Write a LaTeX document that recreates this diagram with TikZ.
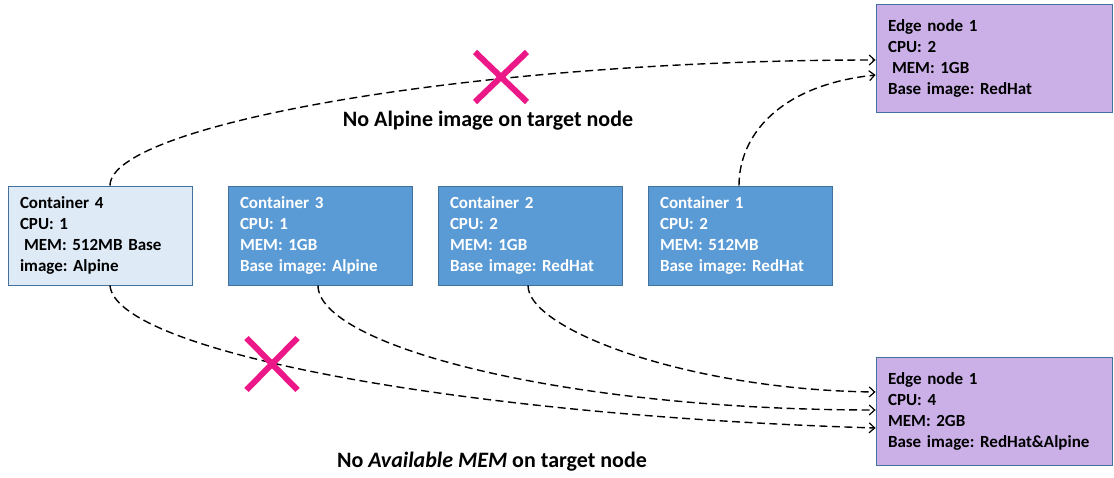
\documentclass[tikz,border=0pt]{standalone}
\usepackage{fontspec}
\setmainfont{Carlito}
\usetikzlibrary{arrows.meta,shapes.misc}
\definecolor{boxblue}{HTML}{5B9BD5}
\definecolor{boxlight}{HTML}{DEEBF7}
\definecolor{boxborder}{HTML}{41719C}
\definecolor{edgepurple}{HTML}{CBB0E8}
\definecolor{xmagenta}{HTML}{EC1888}
\frenchspacing
\tikzset{
  contbox/.style={draw=boxborder, line width=0.9pt, fill=boxblue, text=white,
    text width=160pt, inner xsep=12pt, inner ysep=0pt, minimum height=99pt,
    align=left, font=\fontsize{17}{21}\selectfont\bfseries},
  contlight/.style={contbox, fill=boxlight, text=black},
  edgebox/.style={contbox, fill=edgepurple, text=black, text width=212pt, minimum height=108pt},
  link/.style={draw=black, line width=1.4pt, dash pattern=on 8pt off 4.5pt,
    -{Straight Barb[length=5.5pt,width=10pt,line width=1.2pt]}},
  crossmark/.style={cross out, draw=xmagenta, line width=6pt, inner sep=0pt},
  note/.style={font=\fontsize{22}{26}\selectfont\bfseries, inner sep=0pt, anchor=base}
}
\begin{document}
\begin{tikzpicture}[x=1pt,y=-1pt]
\useasboundingbox (0,0) rectangle (1114,478);
\node[contlight] (c4) at (100,235.5) {Container 4\\CPU: 1\\\hspace{4pt}MEM: 512MB Base\\image: Alpine};
\node[contbox] (c3) at (320,235.5) {Container 3\\CPU: 1\\MEM: 1GB\\Base image: Alpine};
\node[contbox] (c2) at (530,235.5) {Container 2\\CPU: 2\\MEM: 1GB\\Base image: RedHat};
\node[contbox] (c1) at (740,235.5) {Container 1\\CPU: 2\\MEM: 512MB\\Base image: RedHat};
\node[edgebox] (et) at (994,58) {Edge node 1\\CPU: 2\\\hspace{4pt}MEM: 1GB\\Base image: RedHat};
\node[edgebox] (eb) at (994,411) {Edge node 1\\CPU: 4\\MEM: 2GB\\Base image: RedHat\&Alpine};

\draw[link] ([xshift=10pt]c4.north) .. controls (110,125) and (470,60) .. ([yshift=-2pt]et.west);
\draw[link] ([xshift=-1pt]c1.north) .. controls (739,135) and (780,85) .. ([yshift=-17pt]et.west);
\draw[link] ([xshift=10pt]c4.south) .. controls (115,350) and (450,415) .. ([yshift=-17pt]eb.west);
\draw[link] ([xshift=-2pt]c3.south) .. controls (318,345) and (560,410) .. ([yshift=1pt]eb.west);
\draw[link] ([xshift=-2pt]c2.south) .. controls (528,330) and (690,390) .. ([yshift=19pt]eb.west);

\node[crossmark, minimum width=46pt, minimum height=44pt] (x1) at (501,77) {};
\node[crossmark, minimum width=45pt, minimum height=46pt] (x2) at (272,364) {};

\node[note] (n1) at (488,127) {No Alpine image on target node};
\node[note] (n2) at (492,467) {No \textit{Available MEM} on target node};
\end{tikzpicture}
\end{document}
